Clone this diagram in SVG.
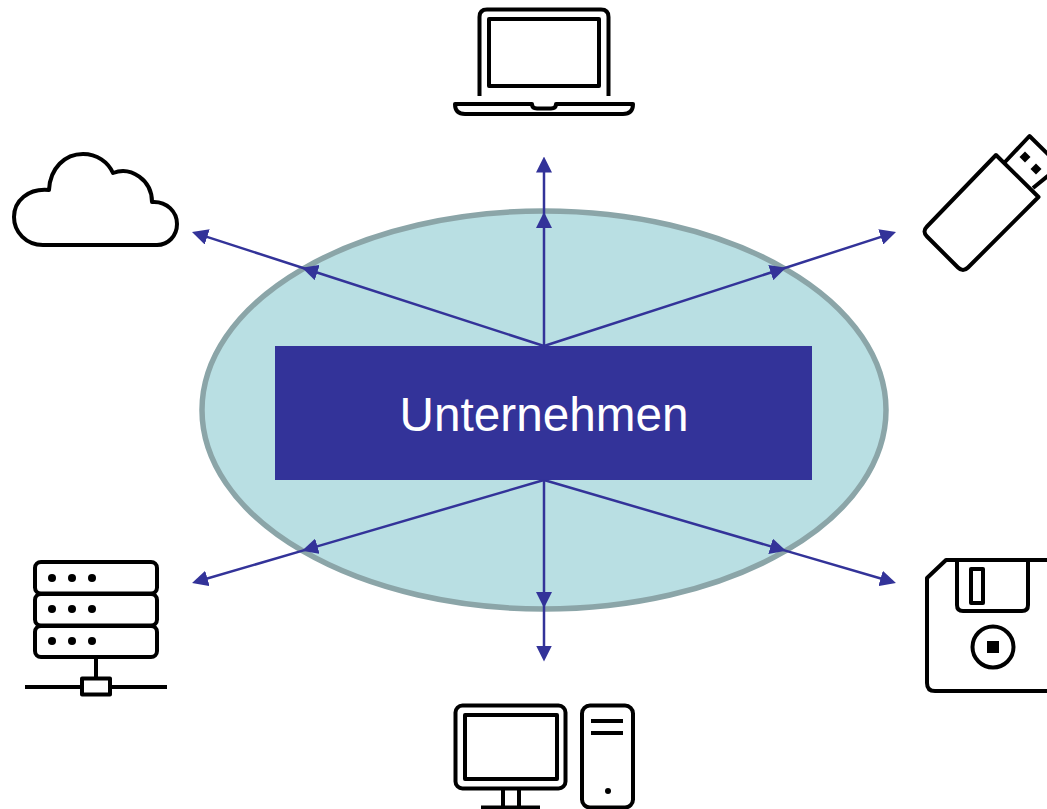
<svg xmlns="http://www.w3.org/2000/svg" width="1047" height="809" viewBox="0 0 1047 809">
<style>
.icon{fill:none;stroke:#000;stroke-width:4;stroke-linejoin:round}
.dot{fill:#000}
.conn{fill:none;stroke:#333399;stroke-width:2.5;marker-mid:url(#arrow);marker-end:url(#arrow)}
.label{font-family:"Liberation Sans",Arial,sans-serif;font-size:47.7px;fill:#fff;text-anchor:middle}
</style>
<defs>
<marker id="arrow" markerUnits="userSpaceOnUse" markerWidth="16" markerHeight="16" refX="10" refY="8" orient="auto">
<polygon points="0,0 16,8 0,16" fill="#333399"/>
</marker>
</defs>
<rect width="1047" height="809" fill="#fff"/>
<g id="unternehmen-ellipse">
<ellipse cx="544" cy="410" rx="342" ry="199" fill="#b9dfe3" stroke="#8ba5a8" stroke-width="5.5"/>
</g>
<g id="unternehmen">
<rect x="275" y="346" width="537" height="134" fill="#333399"/>
<text class="label" x="544" y="431">Unternehmen</text>
</g>
<g id="connectors">
<path class="conn" d="M544,346V218V162.500"/>
<path class="conn" d="M544,346L307.7,269.5L197.7,233.85"/>
<path class="conn" d="M544,346L780.3,269.5L890.3,233.85"/>
<path class="conn" d="M544,480L307.8,549.1L197.8,581.3"/>
<path class="conn" d="M544,480L780.2,549.1L890.2,581.3"/>
<path class="conn" d="M544,480V602V655.500"/>
</g>
<g id="laptop">
<path class="icon" d="M479.500,96V17Q479.500,9.500 487,9.500H601Q608.500,9.500 608.500,17V96"/>
<rect class="icon" x="489" y="19" width="110" height="67" stroke-linejoin="miter"/>
<path class="icon" d="M455,104H532Q532,108.500 537,108.500H551Q556,108.500 556,104H633Q633,114 623,114H465Q455,114 455,104Z"/>
</g>
<g id="cloud">
<path class="icon" d="M43,245C26,245 14,232 14,217C14,201 28,188 49,190C50,168 65,154 83,154C97,154 108,162 113,173C131,166 152,180 152,202C167,201 177,212 177,224C177,236 168,245 157,245Z"/>
</g>
<g id="usb-stick">
<path class="icon" d="M996,155L1038.500,197L968,267.500Q963,272.500 958,267.500L927,236.500Q922,231.500 927,226.500Z"/>
<path class="icon" d="M1005,162L1029.500,136L1060,166L1033,188"/>
<polygon class="dot" points="1025,151.500 1030.500,157 1025,162.500 1019.500,157"/>
<polygon class="dot" points="1036,163.500 1041.500,169 1036,174.500 1030.500,169"/>
</g>
<g id="server">
<rect class="icon" x="35" y="562" width="122" height="31.500" rx="6"/>
<rect class="icon" x="35" y="594" width="122" height="31.500" rx="6"/>
<rect class="icon" x="35" y="626" width="122" height="31" rx="6"/>
<circle class="dot" cx="52" cy="578" r="4"/><circle class="dot" cx="72" cy="578" r="4"/><circle class="dot" cx="92" cy="578" r="4"/>
<circle class="dot" cx="52" cy="609" r="4"/><circle class="dot" cx="72" cy="609" r="4"/><circle class="dot" cx="92" cy="609" r="4"/>
<circle class="dot" cx="52" cy="641" r="4"/><circle class="dot" cx="72" cy="641" r="4"/><circle class="dot" cx="92" cy="641" r="4"/>
<path class="icon" d="M96,657V678M25,687H82M110,687H167"/>
<rect class="icon" x="82" y="678.500" width="28" height="16" stroke-linejoin="miter"/>
</g>
<g id="desktop">
<rect class="icon" x="455.500" y="705.500" width="110" height="83" rx="7"/>
<rect class="icon" x="465" y="715" width="92" height="64" stroke-linejoin="miter"/>
<path class="icon" d="M503,789V807M519,789V807M481,807.500H540"/>
<rect class="icon" x="582" y="705.500" width="51" height="102" rx="8"/>
<path class="icon" d="M591,721H623M591,733H623"/>
<circle class="dot" cx="608" cy="791" r="3"/>
</g>
<g id="floppy">
<path class="icon" d="M927,578L946,560H1060V691H935Q927,691 927,683Z"/>
<path class="icon" d="M957,560V605Q957,611 963,611H1022Q1028,611 1028,605V560"/>
<rect class="icon" x="971" y="569" width="12" height="34" stroke-linejoin="miter"/>
<circle class="icon" cx="993" cy="647" r="20.500"/>
<rect class="dot" x="987" y="641" width="12" height="12"/>
</g>
</svg>
